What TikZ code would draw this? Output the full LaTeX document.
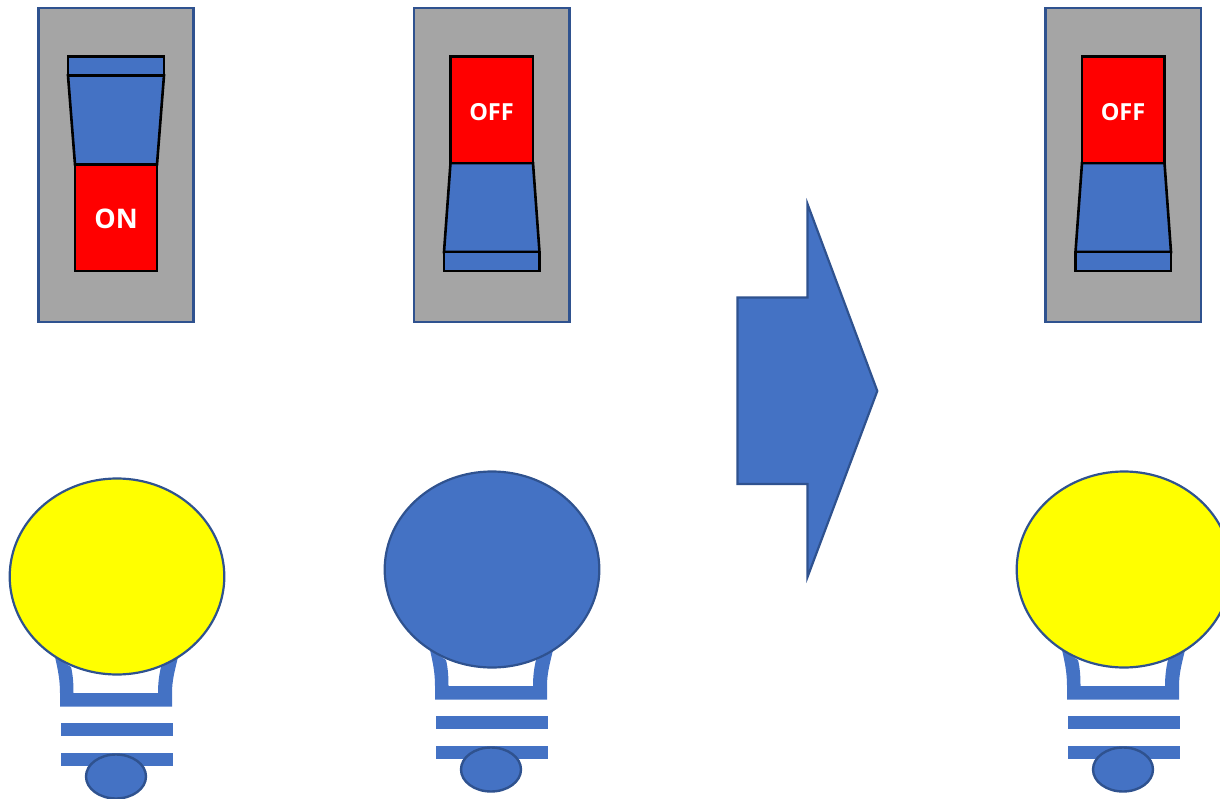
\documentclass[tikz,border=0pt]{standalone}
\usepackage{fontspec}
\setmainfont{Open Sans}
\definecolor{pblue}{HTML}{4472C4}
\definecolor{pedge}{HTML}{2F528F}
\definecolor{pgray}{HTML}{A5A5A5}
\definecolor{pred}{HTML}{FF0000}
\definecolor{pyellow}{HTML}{FFFF00}
\definecolor{pblack}{HTML}{000000}
\tikzset{
  frame/.style={fill=pgray,draw=pedge,line width=2.2pt},
  paddle/.style={fill=pblue,draw=pblack,line width=2.6pt,line join=miter},
  redface/.style={fill=pred,draw=pblack,line width=2.6pt},
  glass/.style={draw=pedge,line width=2.2pt},
  capbit/.style={fill=pblue,draw=pedge,line width=2.4pt},
  metal/.style={fill=pblue,draw=none},
  sign/.style={text=white,inner sep=0pt},
  arrowshape/.style={fill=pblue,draw=pedge,line width=2.2pt,line join=miter},
}
\newcommand{\mybulb}[3]{%
 \begin{scope}[shift={(#1,#2)}]
  \fill[metal] (55,657) .. controls (58,670) and (60,680) .. (60,693) -- (60,706.5) -- (172,706.5) -- (172,693)
     .. controls (172,680) and (175,670) .. (178,657) -- (161,667)
     .. controls (159,675) and (158,684) .. (158,693) -- (73.5,693) .. controls (73.5,684) and (73,675) .. (71,667) -- cycle;
  \fill[metal] (61,723) rectangle (173,736);
  \fill[metal] (61,752.5) rectangle (173,766);
  \draw[glass,fill=#3] (117,576.5) ellipse [x radius=107.3,y radius=98];
  \draw[capbit] (116,776.5) ellipse [x radius=30,y radius=22];
 \end{scope}}
\begin{document}
\begin{tikzpicture}[x=1pt,y=-1pt]
\useasboundingbox (0,0) rectangle (1220,799);
\clip (0,0) rectangle (1220,799);
% switch 1
\draw[frame] (38.5,8) rectangle (193.5,322);
\draw[paddle] (68,75.5) -- (164,75.5) -- (157,164.5) -- (75,164.5) -- cycle;
\draw[paddle] (68,56.5) rectangle (164,75.5);
\draw[redface] (75,164.5) rectangle (157,271);
\node[sign,font=\bfseries\fontsize{27}{27}\selectfont] (on) at (116,218.5) {ON};
% switch 2
\draw[frame] (414,8) rectangle (569.5,322);
\draw[paddle] (450.5,163) -- (533,163) -- (539.5,252) -- (444,252) -- cycle;
\draw[paddle] (444,252) rectangle (539.5,271);
\draw[redface] (450.5,56.5) rectangle (533,163);
\node[sign,font=\bfseries\fontsize{23.5}{23.5}\selectfont] (offa) at (491.5,112) {OFF};
% switch 3
\begin{scope}[shift={(631.5,0)}]
\draw[frame] (414,8) rectangle (569.5,322);
\draw[paddle] (450.5,163) -- (533,163) -- (539.5,252) -- (444,252) -- cycle;
\draw[paddle] (444,252) rectangle (539.5,271);
\draw[redface] (450.5,56.5) rectangle (533,163);
\node[sign,font=\bfseries\fontsize{23.5}{23.5}\selectfont] (offb) at (491.5,112) {OFF};
\end{scope}
% arrow
\draw[arrowshape]
  (737.5,297.5) -- (807.5,297.5) -- (807.5,204) -- (877.3,391) -- (807.5,577) -- (807.5,484) -- (737.5,484) -- cycle;
% bulbs
\mybulb{0}{0}{pyellow}
\mybulb{375}{-7}{pblue}
\mybulb{1007}{-7}{pyellow}
\end{tikzpicture}
\end{document}
